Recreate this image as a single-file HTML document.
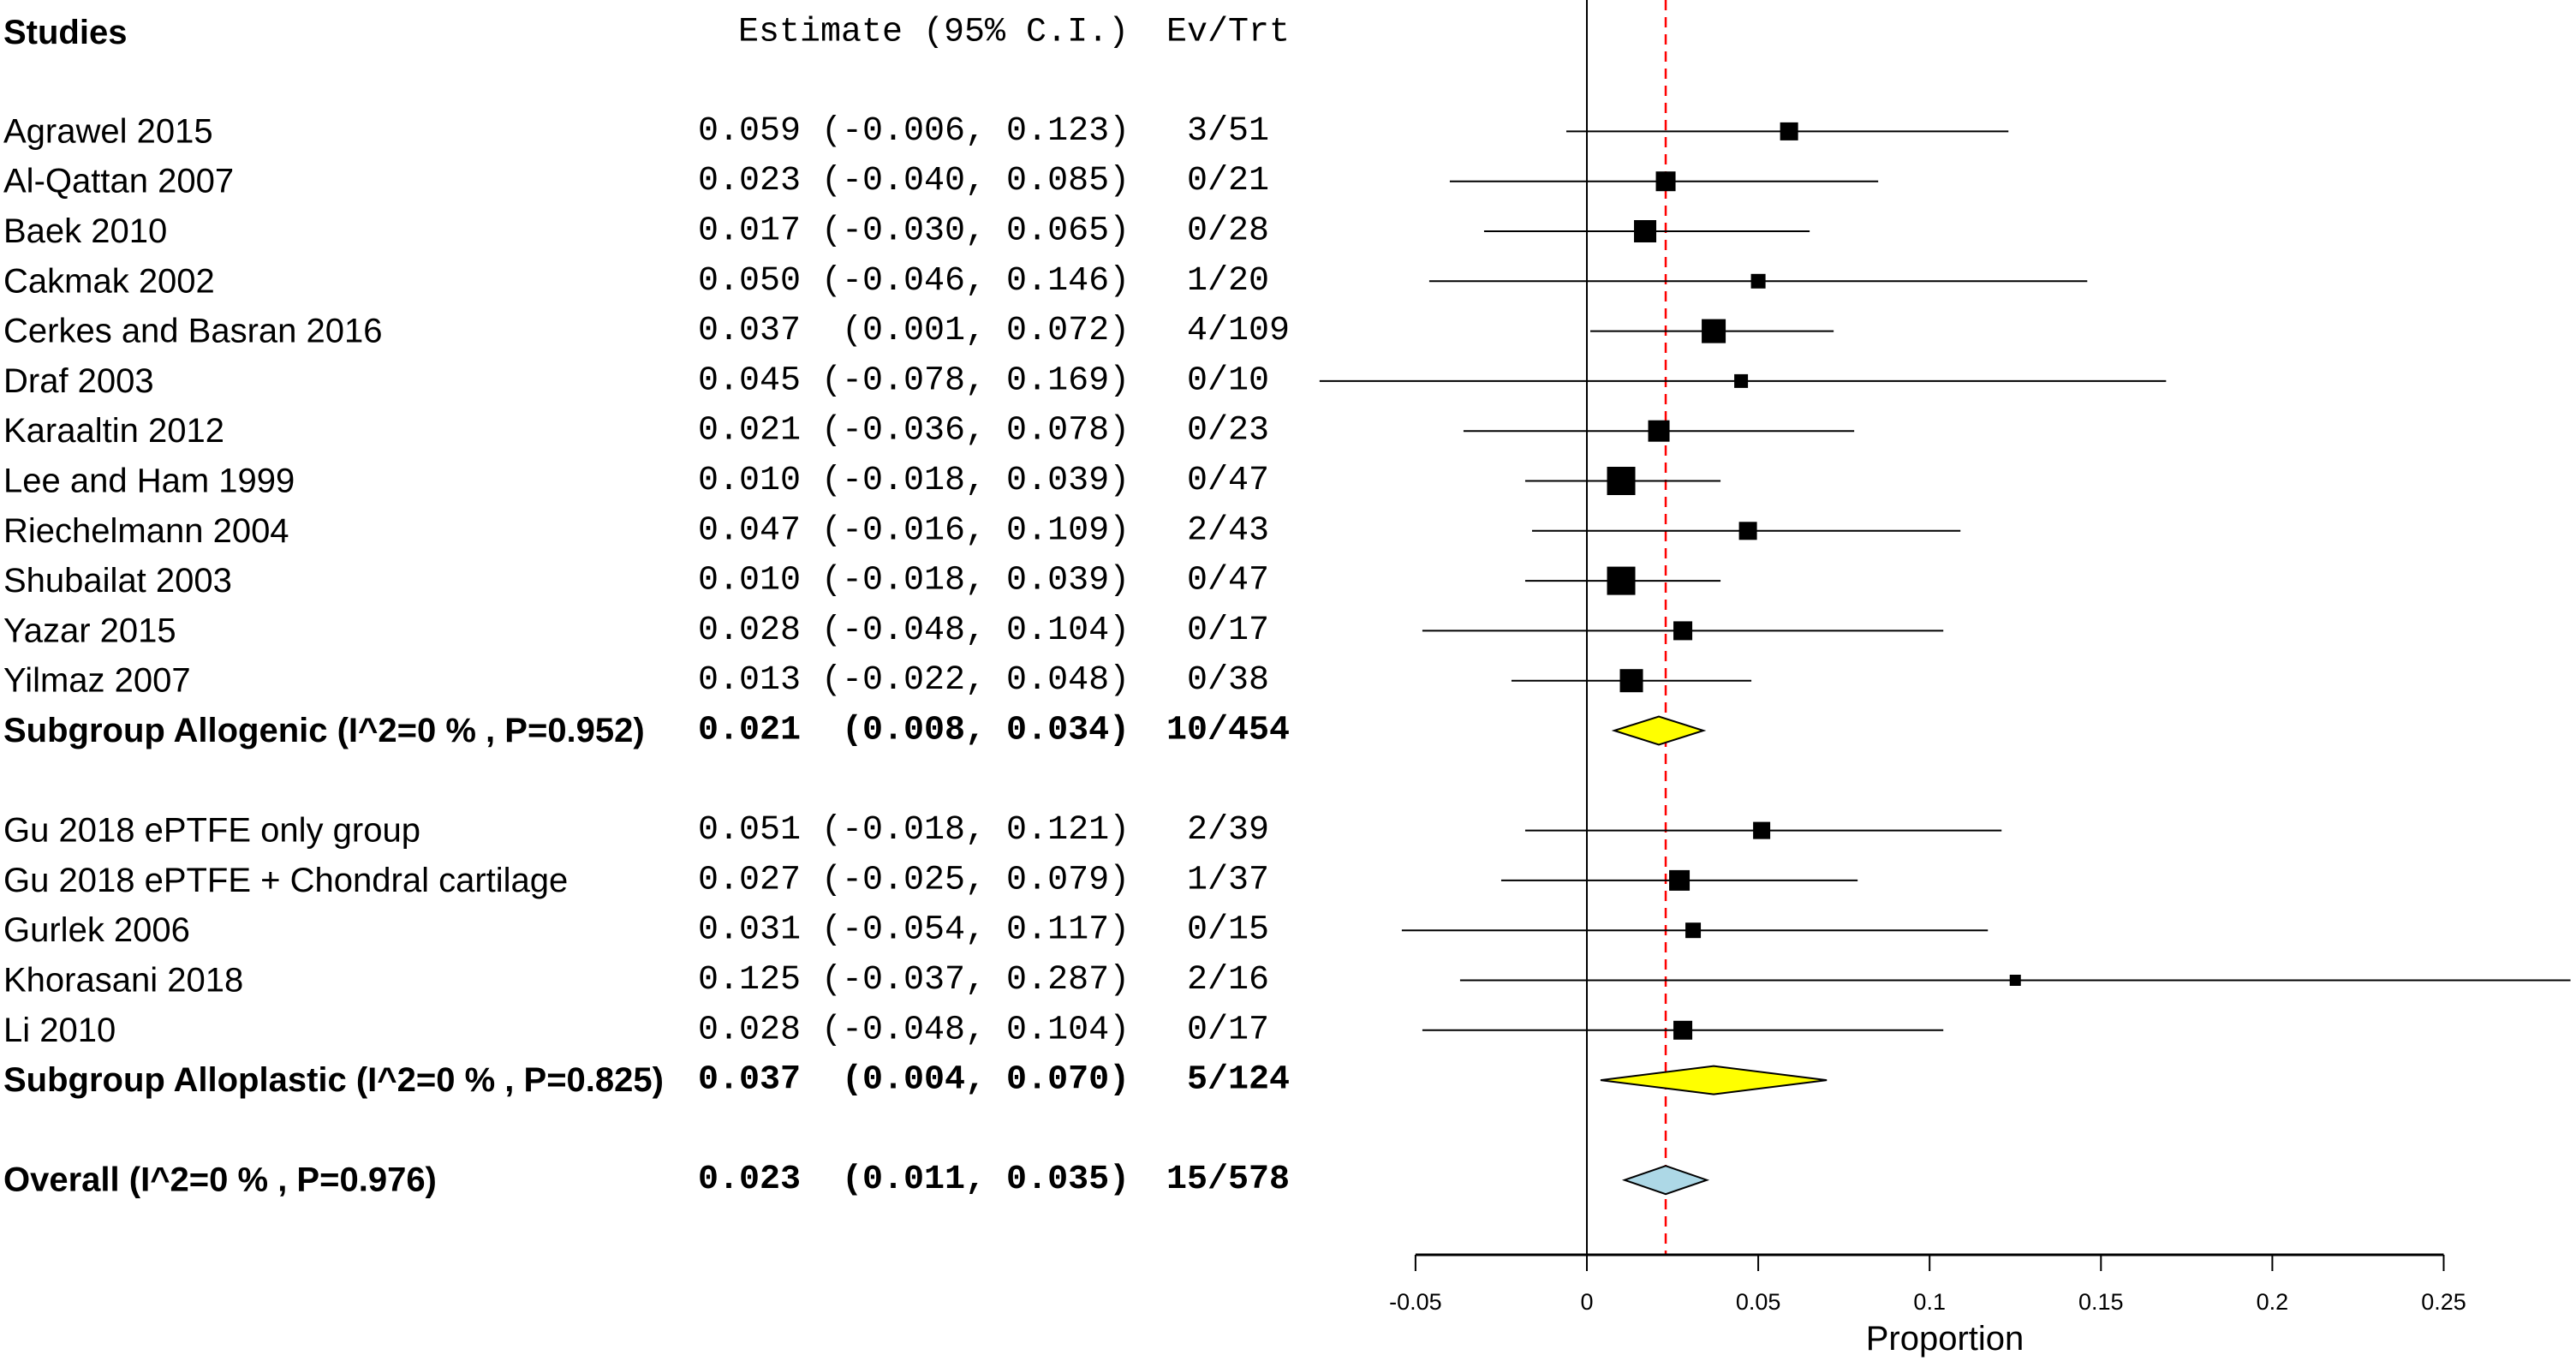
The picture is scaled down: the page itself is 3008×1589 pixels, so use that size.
<!DOCTYPE html>
<html><head><meta charset="utf-8"><style>
html,body{margin:0;padding:0;background:#fff;}
svg{display:block;}
.nm{font-family:"Liberation Sans",Arial,sans-serif;font-size:40px;fill:#000;}
.mono{font-family:"Liberation Mono","Courier New",monospace;font-size:40px;fill:#000;white-space:pre;}
.b{font-weight:bold;}
.tk{font-family:"Liberation Sans",Arial,sans-serif;font-size:27px;fill:#000;}
</style></head><body>
<svg id="chart" width="3008" height="1589" viewBox="0 0 3008 1589" xmlns="http://www.w3.org/2000/svg">
<g id="g-lines"></g>
<g id="g-text"></g>
<g id="g-marks"></g>
<g id="g-axis"></g>
</svg>
<script>
const studies = ["Agrawel 2015","Al-Qattan 2007","Baek 2010","Cakmak 2002","Cerkes and Basran 2016","Draf 2003","Karaaltin 2012","Lee and Ham 1999","Riechelmann 2004","Shubailat 2003","Yazar 2015","Yilmaz 2007",null,null,"Gu 2018 ePTFE only group","Gu 2018 ePTFE + Chondral cartilage","Gurlek 2006","Khorasani 2018","Li 2010"];
const estimates = [0.059,0.023,0.017,0.050,0.037,0.045,0.021,0.010,0.047,0.010,0.028,0.013,null,null,0.051,0.027,0.031,0.125,0.028];
const lowers = [-0.006,-0.040,-0.030,-0.046,0.001,-0.078,-0.036,-0.018,-0.016,-0.018,-0.048,-0.022,null,null,-0.018,-0.025,-0.054,-0.037,-0.048];
const uppers = [0.123,0.085,0.065,0.146,0.072,0.169,0.078,0.039,0.109,0.039,0.104,0.048,null,null,0.121,0.079,0.117,0.287,0.104];
const evTrt = ["3/51","0/21","0/28","1/20","4/109","0/10","0/23","0/47","2/43","0/47","0/17","0/38",null,null,"2/39","1/37","0/15","2/16","0/17"];
const weights = [21,23,26,17,28,16,25,33,21,33,22,27,null,null,20,24,18,13,22];
const summaryLabels = ["Subgroup Allogenic (I^2=0 % , P=0.952)","Subgroup Alloplastic (I^2=0 % , P=0.825)","Overall (I^2=0 % , P=0.976)"];
const summaryRows = [12,19,21];
const summaryEst = [0.021,0.037,0.023];
const summaryLow = [0.008,0.004,0.011];
const summaryHigh = [0.034,0.070,0.035];
const summaryEv = ["10/454","5/124","15/578"];
const summaryFill = ["#ffff00","#ffff00","#add8e6"];
const overallEstimate = 0.023;
const ticks = [-0.05,0,0.05,0.1,0.15,0.2,0.25];
const tickLabels = ["-0.05","0","0.05","0.1","0.15","0.2","0.25"];

const NS="http://www.w3.org/2000/svg";
const X0=1853, XS=4002, Y0=153.4, YS=58.3;
function x(v){return X0+v*XS;}
function y(i){return Y0+i*YS;}
function mk(tag,parent,attrs){const e=document.createElementNS(NS,tag);for(const k in attrs)e.setAttribute(k,attrs[k]);parent.appendChild(e);return e;}
const gL=document.getElementById('g-lines'),gT=document.getElementById('g-text'),gM=document.getElementById('g-marks'),gA=document.getElementById('g-axis');
const AXY=1465;

// zero line and estimate line
let e=mk('line',gL,{x1:x(0),x2:x(0),y1:0,y2:AXY,stroke:'#000','stroke-width':2});


e=mk('line',gL,{x1:x(overallEstimate),x2:x(overallEstimate),y1:0,y2:AXY,stroke:'#ff0000','stroke-width':2.5,'stroke-dasharray':'12 8'});



// headers
e=mk('text',gT,{x:4,y:38,'dominant-baseline':'central',class:'nm b'});e.textContent='Studies';


e=mk('text',gT,{x:862,y:38,'dominant-baseline':'central',class:'mono'});e.textContent='Estimate (95% C.I.)';


e=mk('text',gT,{x:1506,y:38,'dominant-baseline':'central','text-anchor':'end',class:'mono'});e.textContent='Ev/Trt';



function fmt(v){return (v<0?'-':'')+Math.abs(v).toFixed(3);}
function ciStr(est,lo,hi){const l=fmt(lo);return est.toFixed(3)+(l.length===5?'  (':' (')+l+', '+fmt(hi)+')';}
function evStr(s){return s.length<5?s+' ':s;}

studies.forEach((s,i)=>{
  if(s===null)return;
  const yy=y(i);
  let t=mk('text',gT,{x:4,y:yy,'dominant-baseline':'central',class:'nm'});t.textContent=s;
  
  
  t=mk('text',gT,{x:815,y:yy,'dominant-baseline':'central',class:'mono','xml:space':'preserve'});t.textContent=ciStr(estimates[i],lowers[i],uppers[i]);
  
  
  t=mk('text',gT,{x:1506,y:yy,'dominant-baseline':'central','text-anchor':'end',class:'mono','xml:space':'preserve'});t.textContent=evStr(evTrt[i]);
  
  
  const l=mk('line',gM,{x1:x(lowers[i]),x2:x(uppers[i]),y1:yy,y2:yy,stroke:'#000','stroke-width':2});
  
  
  const w=weights[i];
  const r=mk('rect',gM,{x:x(estimates[i])-w/2,y:yy-w/2,width:w,height:w,fill:'#000'});
  
  
});

summaryRows.forEach((row,k)=>{
  const yy=y(row);
  let t=mk('text',gT,{x:4,y:yy,'dominant-baseline':'central',class:'nm b'});t.textContent=summaryLabels[k];
  
  
  t=mk('text',gT,{x:815,y:yy,'dominant-baseline':'central',class:'mono b','xml:space':'preserve'});t.textContent=ciStr(summaryEst[k],summaryLow[k],summaryHigh[k]);
  
  
  t=mk('text',gT,{x:1506,y:yy,'dominant-baseline':'central','text-anchor':'end',class:'mono b','xml:space':'preserve'});t.textContent=evStr(summaryEv[k]);
  
  
  const h=16.5;
  const p=mk('polygon',gM,{points:`${x(summaryLow[k])},${yy} ${x(summaryEst[k])},${yy-h} ${x(summaryHigh[k])},${yy} ${x(summaryEst[k])},${yy+h}`,fill:summaryFill[k],stroke:'#000','stroke-width':2});
  
  
});

// axis
e=mk('line',gA,{x1:x(ticks[0]),x2:x(ticks[ticks.length-1]),y1:AXY,y2:AXY,stroke:'#000','stroke-width':3});


ticks.forEach((v,i)=>{
  const l=mk('line',gA,{x1:x(v),x2:x(v),y1:AXY,y2:AXY+19,stroke:'#000','stroke-width':2});
  
  
  const t=mk('text',gA,{x:x(v),y:1520,'text-anchor':'middle','dominant-baseline':'central',class:'tk'});t.textContent=tickLabels[i];
  
  
});
e=mk('text',gA,{x:2271,y:1563,'text-anchor':'middle','dominant-baseline':'central',class:'nm','font-size':'36'});e.textContent='Proportion';


</script>
</body></html>
